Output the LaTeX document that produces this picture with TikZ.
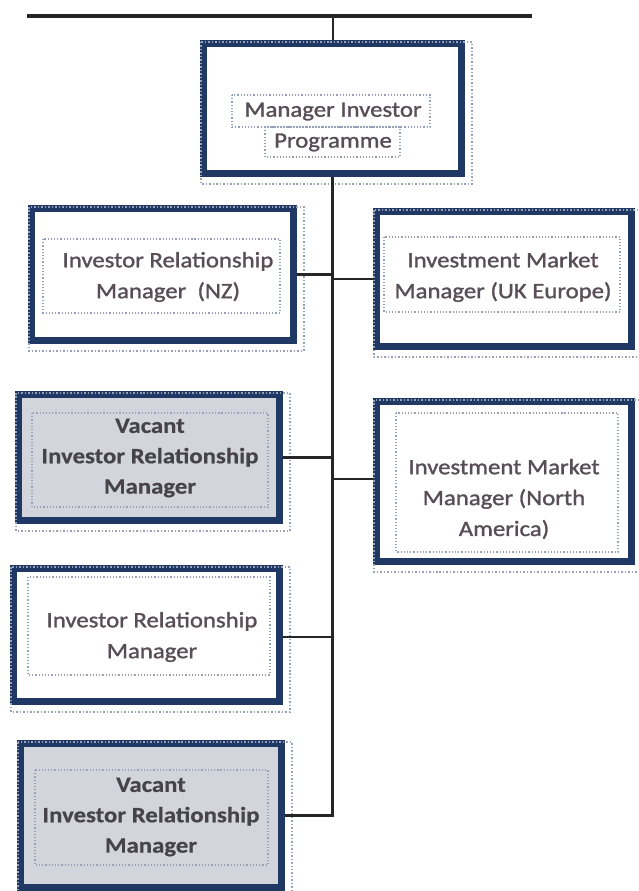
\documentclass[tikz,border=0pt]{standalone}
\usepackage{fontspec}
\setmainfont{Carlito}[FakeStretch=1.13, FakeBold=1.3]
\newfontfamily\vacfont{Carlito}[FakeStretch=1.13, UprightFont=*-Bold, FakeBold=0.6]
\definecolor{navy}{RGB}{31,56,100}
\definecolor{vacgray}{RGB}{211,213,220}
\definecolor{txtcol}{RGB}{88,78,86}
\definecolor{vtxtcol}{RGB}{70,68,74}
\definecolor{dotgray}{RGB}{150,160,182}
\begin{document}
\begin{tikzpicture}[x=1bp,y=-1bp,
  posbox/.style={draw=navy, line width=7bp, inner sep=0pt, fill=white},
  vacbox/.style={posbox, fill=vacgray},
  txt/.style={align=center, text=txtcol, inner sep=0pt, font=\fontsize{22}{31}\selectfont},
  vtxt/.style={txt, text=vtxtcol, font=\fontsize{22}{30.5}\vacfont},
  innerdot/.style={draw=dotgray, dotted, line width=1.2bp},
  shadowdot/.style={draw=dotgray, dotted, line width=1.5bp},
  link/.style={draw=black!85, line width=2.5bp}]
\useasboundingbox (0,0) rectangle (639,891);

% boxes
\node[posbox, minimum width=258bp, minimum height=130bp] (top) at (332.5,108.5) {};
\node[posbox, minimum width=262bp, minimum height=132bp] (nz) at (162.5,274.5) {};
\node[posbox, minimum width=255bp, minimum height=135bp] (uk) at (504,279) {};
\node[vacbox, minimum width=261bp, minimum height=126bp] (v1) at (149,457.5) {};
\node[posbox, minimum width=255bp, minimum height=160bp] (na) at (504,481.5) {};
\node[posbox, minimum width=266bp, minimum height=133bp] (irm) at (146.5,635) {};
\node[vacbox, minimum width=261bp, minimum height=144bp] (v2) at (151,815.5) {};

% offset dotted outlines
\foreach \b in {top,nz,uk,v1,na,irm,v2}{
  \draw[shadowdot] ([shift={(1,2)}]\b.north west) rectangle ([shift={(7,7)}]\b.south east);
}

% inner dotted frames
\draw[innerdot] (232,95) rectangle (430,127);
\draw[innerdot] (265,127) rectangle (400,157);
\draw[innerdot] (43,239) rectangle (280,313);
\draw[innerdot] (384,237) rectangle (620,312);
\draw[innerdot] (32,413) rectangle (268,507);
\draw[innerdot] (396,413) rectangle (618,552);
\draw[innerdot] (28,577) rectangle (270,675);
\draw[innerdot] (35,770) rectangle (268,865);

% texts
\node[txt] (ttop) at (333,127) {Manager Investor\\Programme};
\node[txt] (tnz) at (168,277) {Investor Relationship\\Manager~~(NZ)};
\node[txt] (tuk) at (503,277) {Investment Market\\Manager (UK Europe)};
\node[vtxt] (tv1) at (150,458) {Vacant\\Investor Relationship\\Manager};
\node[txt] (tna) at (504,499) {Investment Market\\Manager (North\\America)};
\node[txt] (tirm) at (152,637) {Investor Relationship\\Manager};
\node[vtxt] (tv2) at (151,817) {Vacant\\Investor Relationship\\Manager};

% connectors
\coordinate (tl) at (27,16);
\coordinate (tr) at (532,16);
\coordinate (tj) at (333,16);
\draw[link, line width=3.2bp] (tl) -- (tr);
\draw[link] (tj) -- (tj |- top.north);
\draw[link] (top.south) -- (top.south |- v2.east) -- (v2.east);
\draw[link] (nz.east) -- (nz.east -| top.south);
\draw[link] (uk.west) -- (uk.west -| top.south);
\draw[link] (v1.east) -- (v1.east -| top.south);
\draw[link] ([yshift=2.5bp]na.west) -- ([yshift=2.5bp]na.west -| top.south);
\draw[link] ([yshift=-2bp]irm.east) -- ([yshift=-2bp]irm.east -| top.south);
\end{tikzpicture}
\end{document}
